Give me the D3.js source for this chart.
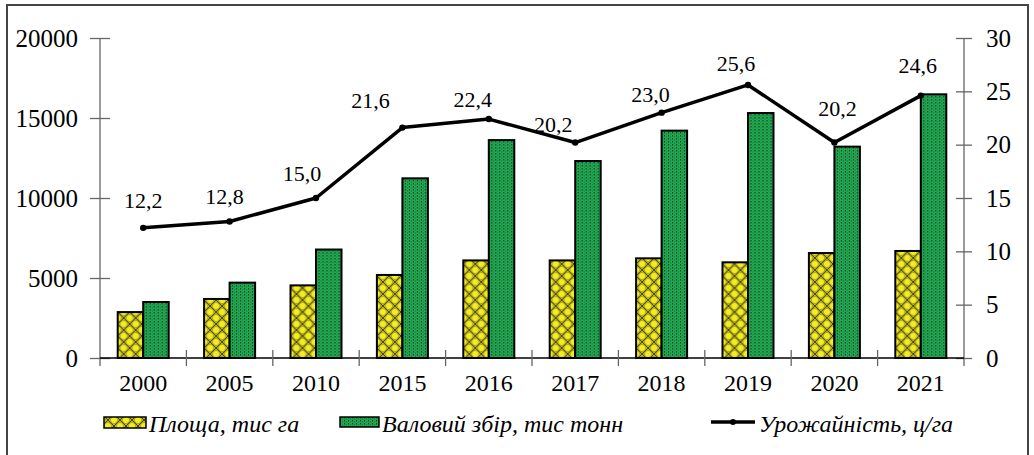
<!DOCTYPE html>
<html>
<head>
<meta charset="utf-8">
<script src="https://cdn.jsdelivr.net/npm/d3@7"></script>
<style>
  body { margin: 0; background: #fff; }
  svg text { fill: #000; }
</style>
</head>
<body>
<div id="chart"></div>
<script>
var years = ["2000", "2005", "2010", "2015", "2016", "2017", "2018", "2019", "2020", "2021"];
var area = [2870, 3690, 4540, 5190, 6100, 6100, 6230, 5980, 6560, 6690];      // Площа, тис га
var harvest = [3500, 4710, 6780, 11230, 13620, 12310, 14210, 15310, 13210, 16480]; // Валовий збір, тис тонн
var yieldV = [12.2, 12.8, 15.0, 21.6, 22.4, 20.2, 23.0, 25.6, 20.2, 24.6];     // Урожайність, ц/га
var leftTicks = [0, 5000, 10000, 15000, 20000];
var rightTicks = [0, 5, 10, 15, 20, 25, 30];
// label nudges relative to each point (moved by hand in the original)
var labelDx = [0, -5, -14, -32, -16, -22, -11, -12, 3, -3];
var labelDy = [-28, -25, -25, -27, -20, -18, -18, -22, -34, -30];

var W = 1034, H = 455;
var svg = d3.select("#chart").append("svg")
    .attr("width", W).attr("height", H);

var defs = svg.append("defs");
// yellow lattice pattern
var p1 = defs.append("pattern").attr("id", "pYellow")
    .attr("patternUnits", "userSpaceOnUse").attr("width", 12).attr("height", 12);
p1.append("rect").attr("width", 12).attr("height", 12).attr("fill", "#f0e81e");
p1.append("path").attr("d", "M0,0L12,12M12,0L0,12")
    .attr("stroke", "#3a3a10").attr("stroke-width", 1.1);
[[6, 0], [0, 6], [12, 6], [6, 12]].forEach(function(c) {
    p1.append("circle").attr("cx", c[0]).attr("cy", c[1]).attr("r", 3.6)
        .attr("fill", "#f4ec22").attr("stroke", "#6b6410").attr("stroke-width", 0.5);
});
// green dotted pattern
var p2 = defs.append("pattern").attr("id", "pGreen")
    .attr("patternUnits", "userSpaceOnUse").attr("width", 4).attr("height", 3);
p2.append("rect").attr("width", 4).attr("height", 3).attr("fill", "#22a852");
p2.append("rect").attr("x", 0).attr("y", 0).attr("width", 1).attr("height", 1.5).attr("fill", "#0b3d1c");
p2.append("rect").attr("x", 2).attr("y", 1.5).attr("width", 1).attr("height", 1).attr("fill", "#146b33");

// outer frame
svg.append("rect").attr("x", 7).attr("y", 5).attr("width", 1021).attr("height", 470)
    .attr("fill", "none").attr("stroke", "#444").attr("stroke-width", 2);

var pl = 100, pr = 964, pt = 38, pb = 358;
var serif = "'Liberation Serif', 'Times New Roman', serif";

var x = d3.scaleBand().domain(years).range([pl, pr]).padding(0);
var x1 = d3.scaleBand().domain(["area", "harvest"]).range([0, 51]);
var y = d3.scaleLinear().domain([0, 20000]).range([pb, pt]);
var y2 = d3.scaleLinear().domain([0, 30]).range([pb, pt]);

// left axis
var gl = svg.append("g").attr("transform", "translate(" + pl + ",0)")
    .call(d3.axisLeft(y).tickValues(leftTicks).tickSize(10).tickPadding(12).tickFormat(d3.format("d")));
gl.attr("font-family", null).attr("font-size", null);
gl.selectAll("text").style("font-family", serif).style("font-size", "25px");
gl.select(".domain").remove();
gl.selectAll(".tick line").attr("x2", -10).attr("x1", 10).attr("stroke", "#666").attr("stroke-width", 1.3);
gl.append("line").attr("x1", 0).attr("x2", 0).attr("y1", pt).attr("y2", pb + 8)
    .attr("stroke", "#666").attr("stroke-width", 1.3);

// right axis
var gr = svg.append("g").attr("transform", "translate(" + pr + ",0)")
    .call(d3.axisRight(y2).tickValues(rightTicks).tickSize(8).tickPadding(14));
gr.attr("font-family", null).attr("font-size", null);
gr.selectAll("text").style("font-family", serif).style("font-size", "25px");
gr.select(".domain").remove();
gr.selectAll(".tick line").attr("x1", -8).attr("x2", 8).attr("stroke", "#666").attr("stroke-width", 1.3);
gr.append("line").attr("x1", 0).attr("x2", 0).attr("y1", pt).attr("y2", pb + 8)
    .attr("stroke", "#666").attr("stroke-width", 1.3);

// bars
var groups = svg.append("g").selectAll("g").data(years).join("g")
    .attr("transform", function(d) { return "translate(" + (x(d) + x.bandwidth() / 2 - 25.5) + ",0)"; });
groups.append("rect")
    .attr("x", x1("area")).attr("width", x1.bandwidth())
    .attr("y", function(d, i) { return y(area[i]); })
    .attr("height", function(d, i) { return pb - y(area[i]); })
    .attr("fill", "url(#pYellow)").attr("stroke", "#000").attr("stroke-width", 2);
groups.append("rect")
    .attr("x", x1("harvest")).attr("width", x1.bandwidth())
    .attr("y", function(d, i) { return y(harvest[i]); })
    .attr("height", function(d, i) { return pb - y(harvest[i]); })
    .attr("fill", "url(#pGreen)").attr("stroke", "#000").attr("stroke-width", 2);

// x axis
var gx = svg.append("g").attr("transform", "translate(0," + pb + ")")
    .call(d3.axisBottom(x).tickSize(0).tickPadding(16));
gx.attr("font-family", null).attr("font-size", null);
gx.selectAll("text").style("font-family", serif).style("font-size", "24px");
gx.select(".domain").remove();
svg.append("line").attr("x1", pl).attr("x2", pr).attr("y1", pb).attr("y2", pb)
    .attr("stroke", "#000").attr("stroke-width", 1.6);
svg.append("g").selectAll("line").data(years.slice(1)).join("line")
    .attr("x1", function(d) { return x(d); }).attr("x2", function(d) { return x(d); })
    .attr("y1", pb - 8).attr("y2", pb + 8)
    .attr("stroke", "#666").attr("stroke-width", 1.3);

// yield line
var cx = function(i) { return x(years[i]) + x.bandwidth() / 2; };
var line = d3.line()
    .x(function(d, i) { return cx(i); })
    .y(function(d) { return y2(d); });
svg.append("path").datum(yieldV).attr("d", line)
    .attr("fill", "none").attr("stroke", "#000").attr("stroke-width", 3.5)
    .attr("stroke-linejoin", "round");
svg.append("g").selectAll("circle").data(yieldV).join("circle")
    .attr("cx", function(d, i) { return cx(i); }).attr("cy", function(d) { return y2(d); })
    .attr("r", 3.2).attr("fill", "#000");
svg.append("g").selectAll("text").data(yieldV).join("text")
    .attr("x", function(d, i) { return cx(i) + labelDx[i]; })
    .attr("y", function(d, i) { return y2(d) + labelDy[i]; })
    .attr("dy", "0.35em").attr("text-anchor", "middle")
    .style("font-family", serif).style("font-size", "22px")
    .text(function(d) { return d3.format(".1f")(d).replace(".", ","); });

// legend
var lg = svg.append("g");
lg.append("rect").attr("x", 104).attr("y", 417).attr("width", 42).attr("height", 11)
    .attr("fill", "url(#pYellow)").attr("stroke", "#000").attr("stroke-width", 1.5);
lg.append("text").attr("x", 149).attr("y", 432).text("Площа, тис га");
lg.append("rect").attr("x", 340).attr("y", 417).attr("width", 39).attr("height", 10)
    .attr("fill", "url(#pGreen)").attr("stroke", "#000").attr("stroke-width", 1.5);
lg.append("text").attr("x", 382).attr("y", 432).text("Валовий збір, тис тонн");
lg.append("line").attr("x1", 711).attr("x2", 755).attr("y1", 422).attr("y2", 422)
    .attr("stroke", "#000").attr("stroke-width", 3.5);
lg.append("circle").attr("cx", 733).attr("cy", 422).attr("r", 3).attr("fill", "#000");
lg.append("text").attr("x", 759).attr("y", 432).text("Урожайність, ц/га");
lg.selectAll("text").style("font-family", serif).style("font-size", "24px").style("font-style", "italic");
</script>
</body>
</html>
